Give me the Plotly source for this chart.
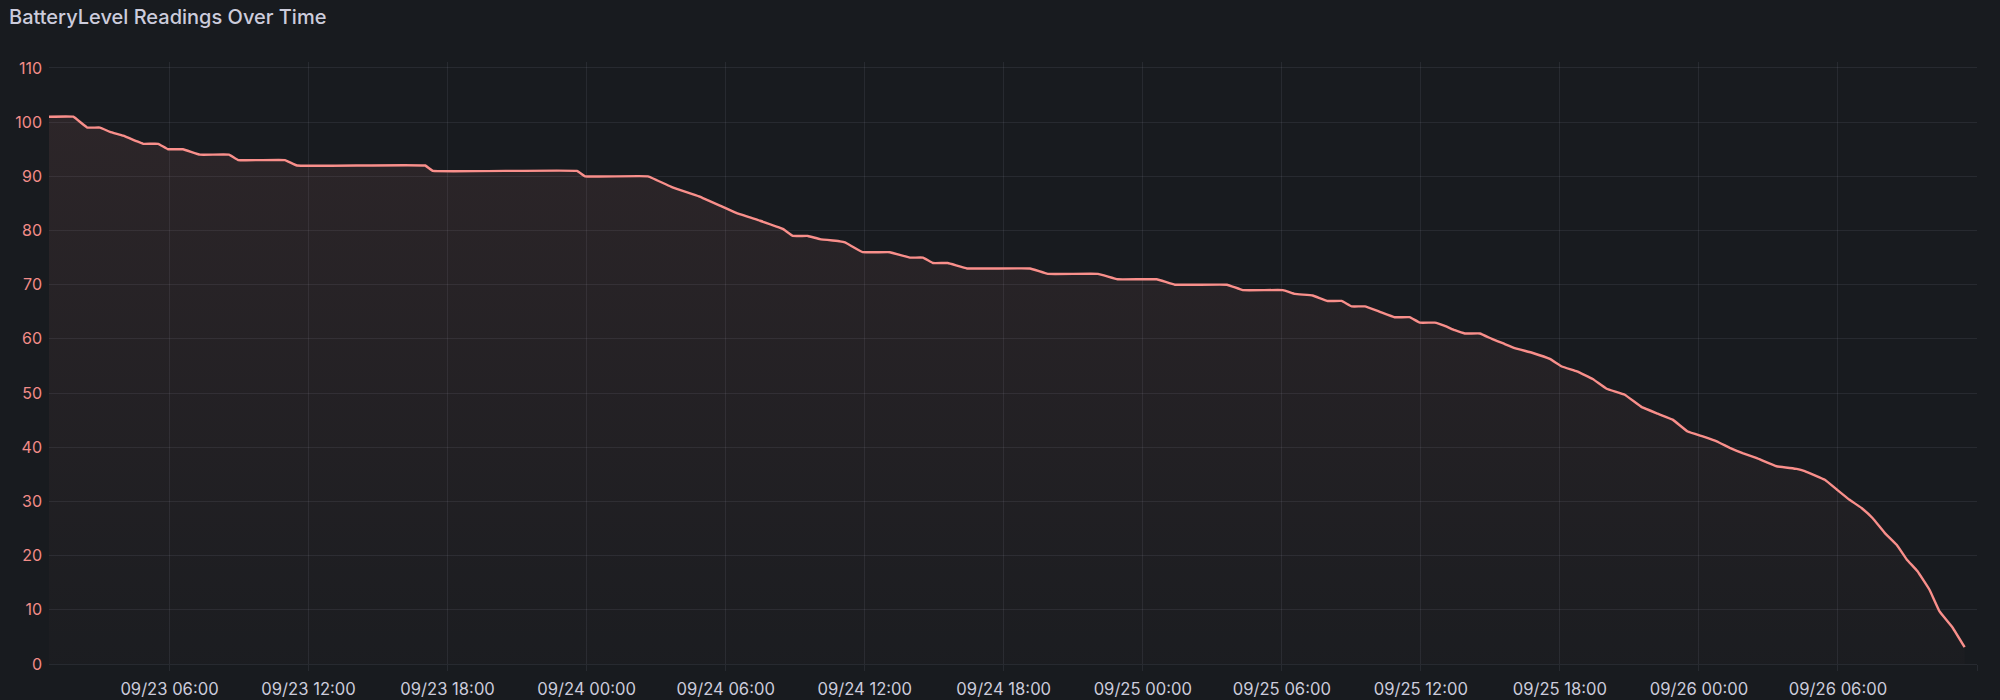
import plotly.graph_objects as go

# ---- data ----
times = [
    "2024-09-23 00:48", "2024-09-23 01:51", "2024-09-23 02:27", "2024-09-23 03:00",
    "2024-09-23 03:26", "2024-09-23 04:00", "2024-09-23 04:34", "2024-09-23 04:52",
    "2024-09-23 05:31", "2024-09-23 05:56", "2024-09-23 06:35", "2024-09-23 07:19",
    "2024-09-23 08:34", "2024-09-23 08:58", "2024-09-23 10:59", "2024-09-23 11:30",
    "2024-09-23 17:02", "2024-09-23 17:22", "2024-09-23 23:35", "2024-09-23 23:56",
    "2024-09-24 02:39", "2024-09-24 03:41", "2024-09-24 04:51", "2024-09-24 05:45",
    "2024-09-24 06:29", "2024-09-24 07:29", "2024-09-24 08:28", "2024-09-24 08:54",
    "2024-09-24 09:33", "2024-09-24 10:04", "2024-09-24 10:56", "2024-09-24 11:09",
    "2024-09-24 11:55", "2024-09-24 13:05", "2024-09-24 13:57", "2024-09-24 14:31",
    "2024-09-24 14:57", "2024-09-24 15:35", "2024-09-24 16:25", "2024-09-24 19:08",
    "2024-09-24 19:54", "2024-09-24 22:04", "2024-09-24 22:55", "2024-09-25 00:36",
    "2024-09-25 01:23", "2024-09-25 03:38", "2024-09-25 04:19", "2024-09-25 06:03",
    "2024-09-25 06:34", "2024-09-25 07:20", "2024-09-25 07:59", "2024-09-25 08:35",
    "2024-09-25 09:01", "2024-09-25 09:35", "2024-09-25 10:14", "2024-09-25 10:52",
    "2024-09-25 11:31", "2024-09-25 11:57", "2024-09-25 12:36", "2024-09-25 13:02",
    "2024-09-25 13:28", "2024-09-25 13:54", "2024-09-25 14:33", "2024-09-25 15:04",
    "2024-09-25 15:32", "2024-09-25 16:03", "2024-09-25 16:50", "2024-09-25 17:34",
    "2024-09-25 18:05", "2024-09-25 18:44", "2024-09-25 19:25", "2024-09-25 20:01",
    "2024-09-25 20:48", "2024-09-25 21:32", "2024-09-25 22:13", "2024-09-25 22:52",
    "2024-09-25 23:31", "2024-09-26 00:10", "2024-09-26 00:46", "2024-09-26 01:20",
    "2024-09-26 01:53", "2024-09-26 02:30", "2024-09-26 03:21", "2024-09-26 04:13",
    "2024-09-26 04:34", "2024-09-26 05:26", "2024-09-26 05:57", "2024-09-26 06:30",
    "2024-09-26 07:01", "2024-09-26 07:30", "2024-09-26 08:01", "2024-09-26 08:32",
    "2024-09-26 08:58", "2024-09-26 09:26", "2024-09-26 09:57", "2024-09-26 10:23",
    "2024-09-26 10:57", "2024-09-26 11:28",
]
battery = [
    101, 101, 99, 99,
    98.2, 97.5, 96.5, 96,
    96, 95, 95, 94,
    94, 93, 93, 92,
    92, 91, 91, 90,
    90, 88, 86.3, 84.6,
    83.2, 81.8, 80.3, 79,
    79, 78.4, 78, 77.8,
    76, 76, 75, 75,
    74, 74, 73, 73,
    72, 72, 71, 71,
    70, 70, 69, 69,
    68.3, 68, 67, 67,
    66, 66, 65, 64,
    64, 63, 63, 62.4,
    61.6, 61, 61, 60,
    59.2, 58.3, 57.4, 56.3,
    54.9, 54, 52.6, 50.8,
    49.7, 47.4, 46.2, 45.1,
    42.9, 42, 41.1, 39.9,
    38.9, 38, 36.5, 36,
    35.6, 34, 32.2, 30.3,
    28.8, 26.9, 24.2, 22,
    19.3, 17.1, 13.7, 9.7,
    6.7, 3.1,
]
x_range = ["2024-09-23 00:48", "2024-09-26 12:00"]
y_ticks = list(range(0, 111, 10))
title_text = "BatteryLevel Readings Over Time"

# ---- style ----
BG = "#181b1f"
GRID = "rgba(204,204,220,0.09)"
LINE = "#f98f8b"
TEXT = "#ccccdc"
FONT = "Inter"

fig = go.Figure()
fig.add_trace(go.Scatter(
    x=times, y=battery, mode="lines",
    line=dict(color=LINE, width=2.4, shape="spline", smoothing=0.2),
    fill="tozeroy",
    fillgradient=dict(
        type="vertical",
        start=0, stop=101,
        colorscale=[[0, "rgba(249,143,139,0.015)"], [1, "rgba(249,143,139,0.09)"]],
    ),
    hoverinfo="skip",
    showlegend=False,
))

fig.update_layout(
    width=2000, height=700,
    paper_bgcolor=BG, plot_bgcolor=BG,
    margin=dict(l=49, r=23, t=62, b=36, autoexpand=False),
    font=dict(family=FONT, color=TEXT, size=16),
    title=dict(
        text=title_text, x=9 / 2000, xanchor="left", xref="container",
        y=1 - 17 / 700, yanchor="middle", yref="container",
        font=dict(family=FONT, size=20, color=TEXT, weight=500),
    ),
    xaxis=dict(
        type="date", range=x_range, automargin=False,
        tick0="2024-09-23 00:00", dtick=6 * 3600 * 1000,
        tickformat="%m/%d %H:%M",
        showgrid=True, gridcolor=GRID, gridwidth=1,
        ticks="outside", ticklen=6, tickcolor=GRID,
        showline=False, zeroline=False,
        tickfont=dict(family=FONT, size=16.6, color=TEXT),
        ticklabelstandoff=4,
    ),
    yaxis=dict(
        range=[0, 111.1], tickvals=y_ticks, automargin=False,
        showgrid=True, gridcolor=GRID, gridwidth=1,
        zeroline=True, zerolinecolor=GRID, zerolinewidth=1,
        showline=False, ticks="",
        tickfont=dict(family=FONT, size=16, color="#f28c88"),
        ticklabelstandoff=6,
    ),
)

fig.write_html(
    "out.html",
    config={"displayModeBar": False},
    post_script="document.body.style.margin='0';document.body.style.padding='0';"
                "document.body.style.background='#181b1f';",
)
